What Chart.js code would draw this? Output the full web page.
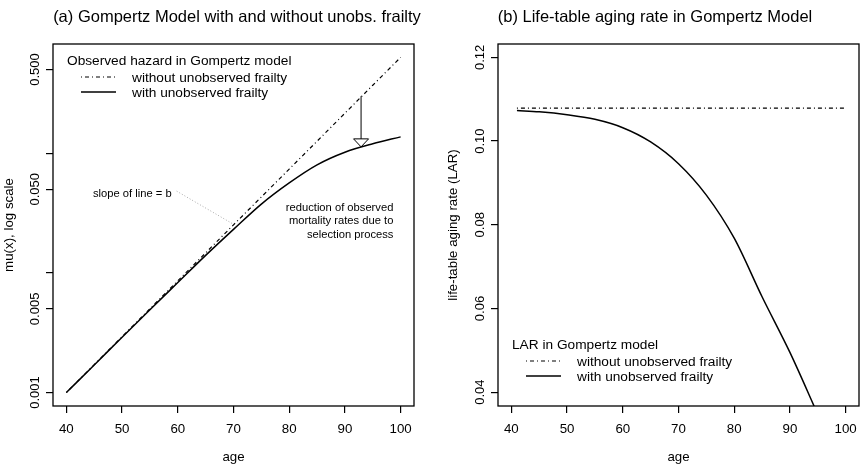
<!DOCTYPE html>
<html>
<head>
<meta charset="utf-8">
<script src="https://cdn.jsdelivr.net/npm/chart.js@4.4.1/dist/chart.umd.min.js"></script>
<style>
  body { margin: 0; background: #fff; }
  #wrap { position: relative; width: 868px; height: 474px; }
  canvas { position: absolute; top: 0; }
</style>
</head>
<body>
<div id="wrap">
  <canvas id="chartA" width="434" height="474" style="left:0"></canvas>
  <canvas id="chartB" width="434" height="474" style="left:434px"></canvas>
</div>
<script>
// painel (a): taxa de mortalidade observada, escala log
const ages = [40, 45, 50, 55, 60, 65, 70, 75, 80, 85, 90, 95, 100];
const hazardNoFrailty = [0.001, 0.00171, 0.00293, 0.00502, 0.00858, 0.0147, 0.0252, 0.0431, 0.0737, 0.126, 0.216, 0.370, 0.633];
const hazardFrailty = [0.001, 0.00170, 0.00290, 0.00492, 0.0083, 0.0140, 0.0231, 0.0376, 0.0565, 0.080, 0.102, 0.120, 0.137];

// painel (b): life-table aging rate
const larAgesFlat = [41, 100];
const larNoFrailty = [0.1079, 0.1079];
const larAges = [41, 45, 50, 55, 60, 65, 70, 75, 80, 85, 90, 95];
const larFrailty = [0.1073, 0.1070, 0.1063, 0.1052, 0.1032, 0.0998, 0.0946, 0.0871, 0.0768, 0.0628, 0.0495, 0.0347];

// eixos
const xTicks = [40, 50, 60, 70, 80, 90, 100];
const hazardTicks = [0.001, 0.005, 0.01, 0.05, 0.1, 0.5];
const hazardTickLabels = ["0.001", "0.005", "", "0.050", "", "0.500"];
const larTicks = [0.04, 0.06, 0.08, 0.10, 0.12];
const larTickLabels = ["0.04", "0.06", "0.08", "0.10", "0.12"];

// anotações do painel (a)
const arrowAge = 92.9, arrowFrom = 0.30, arrowTo = 0.113;
const slopeNote = { age: 58.9, mu: 0.0455, toAge: 69.8, toMu: 0.0258 };
const selectionNote = { age: 98.7, mu: 0.0349 };

const FONT = "'Liberation Sans', Arial, sans-serif";
const DOTDASH = [1, 3, 4, 3];
const toXY = (xs, ys) => xs.map((x, i) => ({ x: x, y: ys[i] }));

//Plugin pra desenhar a caixa, rótulos do eixo y, título e legenda
const frame = {
  id: "frame",
  afterDraw(chart, args, opts) {
    const { ctx, chartArea: a, scales } = chart;
    ctx.save();
    ctx.strokeStyle = "#000";
    ctx.lineWidth = 1.3;
    ctx.setLineDash([]);
    ctx.strokeRect(a.left, a.top, a.right - a.left, a.bottom - a.top);

    ctx.fillStyle = "#000";
    ctx.font = "13px " + FONT;
    ctx.textAlign = "center";
    ctx.textBaseline = "middle";
    opts.yTicks.forEach((v, i) => {
      if (!opts.yLabels[i]) return;
      const y = scales.y.getPixelForValue(v);
      ctx.save();
      ctx.translate(a.left - 18, y);
      ctx.rotate(-Math.PI / 2);
      ctx.fillText(opts.yLabels[i], 0, 0);
      ctx.restore();
    });

    ctx.font = "16.5px " + FONT;
    ctx.fillText(opts.title, opts.titleX, 17);

    const lg = opts.legend;
    ctx.font = "13.7px " + FONT;
    ctx.textAlign = "left";
    ctx.fillText(lg.title, lg.x, lg.y);
    chart.data.datasets.forEach((ds, i) => {
      const yy = lg.y + 16 + i * 15;
      ctx.beginPath();
      ctx.lineWidth = ds.borderWidth;
      ctx.setLineDash(ds.borderDash || []);
      ctx.moveTo(lg.x + 14, yy);
      ctx.lineTo(lg.x + 49, yy);
      ctx.stroke();
      ctx.setLineDash([]);
      ctx.fillText(ds.label, lg.x + 65, yy + 1);
    });
    ctx.restore();
  },
};

//Plugin das anotações do painel (a)
const notes = {
  id: "notes",
  afterDraw(chart) {
    const { ctx, scales } = chart;
    const px = (age) => scales.x.getPixelForValue(age);
    const py = (mu) => scales.y.getPixelForValue(mu);
    ctx.save();
    ctx.fillStyle = "#000";
    ctx.font = "11.2px " + FONT;
    ctx.textBaseline = "middle";

    ctx.textAlign = "right";
    ctx.fillText("slope of line = b", px(slopeNote.age), py(slopeNote.mu));
    ctx.strokeStyle = "#aaa";
    ctx.lineWidth = 1;
    ctx.setLineDash([1, 2]);
    ctx.beginPath();
    ctx.moveTo(px(slopeNote.age) + 5, py(slopeNote.mu) - 3);
    ctx.lineTo(px(slopeNote.toAge), py(slopeNote.toMu));
    ctx.stroke();
    ctx.setLineDash([]);

    const lines = ["reduction of observed", "mortality rates due to", "selection process"];
    lines.forEach((t, i) => {
      ctx.fillText(t, px(selectionNote.age), py(selectionNote.mu) + i * 13.3);
    });

    // seta
    const ax = px(arrowAge), y0 = py(arrowFrom), y1 = py(arrowTo);
    ctx.strokeStyle = "#000";
    ctx.lineWidth = 1;
    ctx.beginPath();
    ctx.moveTo(ax, y0);
    ctx.lineTo(ax, y1 - 8);
    ctx.moveTo(ax - 7.5, y1 - 8);
    ctx.lineTo(ax + 7.5, y1 - 8);
    ctx.lineTo(ax, y1);
    ctx.closePath();
    ctx.stroke();
    ctx.restore();
  },
};

const xScale = () => ({
  type: "linear",
  min: 37.6,
  max: 102.4,
  bounds: "data",
  afterBuildTicks: (s) => { s.ticks = xTicks.map((v) => ({ value: v })); },
  afterFit: (s) => { s.height = 68; },
  grid: { drawOnChartArea: false, drawTicks: true, tickLength: 7, color: "#000", lineWidth: 1.2 },
  border: { display: false },
  ticks: { color: "#000", font: { family: FONT, size: 13.3 }, padding: 8.5, maxRotation: 0 },
  title: { display: true, text: "age", color: "#000", font: { family: FONT, size: 13.3 }, padding: { top: 0, bottom: 9 } },
});

const yScale = (opt) => Object.assign({
  bounds: "data",
  grid: { drawOnChartArea: false, drawTicks: true, tickLength: 7, color: "#000", lineWidth: 1.2 },
  border: { display: false },
  ticks: { display: false },
}, opt);

const baseOptions = {
  responsive: false,
  animation: false,
  plugins: { legend: { display: false }, tooltip: { enabled: false } },
};

//Gráfico (a)
new Chart(document.getElementById("chartA"), {
  type: "line",
  data: {
    datasets: [
      { label: "without unobserved frailty", data: toXY(ages, hazardNoFrailty), borderColor: "#000", borderWidth: 1.2, borderDash: DOTDASH, pointRadius: 0, clip: 0 },
      { label: "with unobserved frailty", data: toXY(ages, hazardFrailty), borderColor: "#000", borderWidth: 1.5, pointRadius: 0, cubicInterpolationMode: "monotone", clip: 0 },
    ],
  },
  options: Object.assign({}, baseOptions, {
    layout: { padding: { left: 0, top: 44, right: 20, bottom: 0 } },
    scales: {
      x: xScale(),
      y: yScale({
        type: "logarithmic",
        min: 0.000772,
        max: 0.818,
        afterBuildTicks: (s) => { s.ticks = hazardTicks.map((v) => ({ value: v })); },
        afterFit: (s) => { s.width = 53; },
        title: { display: true, text: "mu(x), log scale", color: "#000", font: { family: FONT, size: 13.3 }, padding: { top: 1, bottom: 0 } },
      }),
    },
    plugins: Object.assign({}, baseOptions.plugins, {
      frame: {
        yTicks: hazardTicks, yLabels: hazardTickLabels,
        title: "(a) Gompertz Model with and without unobs. frailty", titleX: 237,
        legend: { title: "Observed hazard in Gompertz model", x: 67, y: 61 },
      },
    }),
  }),
  plugins: [frame, notes],
});

//Gráfico (b)
new Chart(document.getElementById("chartB"), {
  type: "line",
  data: {
    datasets: [
      { label: "without unobserved frailty", data: toXY(larAgesFlat, larNoFrailty), borderColor: "#000", borderWidth: 1.2, borderDash: DOTDASH, pointRadius: 0, clip: 0 },
      { label: "with unobserved frailty", data: toXY(larAges, larFrailty), borderColor: "#000", borderWidth: 1.5, pointRadius: 0, cubicInterpolationMode: "monotone", clip: 0 },
    ],
  },
  options: Object.assign({}, baseOptions, {
    layout: { padding: { left: 0, top: 44, right: 9, bottom: 0 } },
    scales: {
      x: xScale(),
      y: yScale({
        type: "linear",
        min: 0.0367,
        max: 0.1232,
        afterBuildTicks: (s) => { s.ticks = larTicks.map((v) => ({ value: v })); },
        afterFit: (s) => { s.width = 64; },
        title: { display: true, text: "life-table aging rate (LAR)", color: "#000", font: { family: FONT, size: 13.3 }, padding: { top: 11, bottom: 0 } },
      }),
    },
    plugins: Object.assign({}, baseOptions.plugins, {
      frame: {
        yTicks: larTicks, yLabels: larTickLabels,
        title: "(b) Life-table aging rate in Gompertz Model", titleX: 221,
        legend: { title: "LAR in Gompertz model", x: 78, y: 345 },
      },
    }),
  }),
  plugins: [frame],
});
</script>
</body>
</html>
